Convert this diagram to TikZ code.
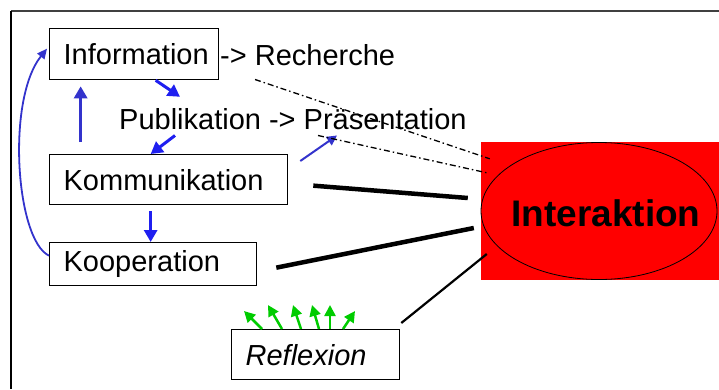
\documentclass[tikz,border=0pt]{standalone}
\usepackage{fontspec}
\setmainfont{Liberation Sans}
\usetikzlibrary{arrows.meta, shapes.geometric}

\begin{document}
\begin{tikzpicture}[x=1pt, y=1pt, font=\fontsize{29}{34}\selectfont,
  box/.style={draw, line width=1.3pt, inner xsep=14pt, inner ysep=0pt, anchor=north west, align=flush left},
  txt/.style={inner sep=0pt, anchor=base west},
  blarrow/.style={blu, line width=3pt, -{Triangle[length=12pt, width=13pt]}},
  grarrow/.style={gre, line width=2.5pt, -{Triangle[length=11pt, width=11pt]}},
  heavy/.style={line width=4.5pt},
  dashdot/.style={line width=1.3pt, dash pattern=on 6pt off 3pt on 1.5pt off 3pt}]
  \definecolor{blu}{HTML}{1F1FF0}
  \definecolor{dblu}{HTML}{3333CC}
  \definecolor{gre}{HTML}{00CC00}
  \useasboundingbox (0,0) rectangle (719,-389);

  % frame
  \draw [line width=1.3pt, black!75] (11,-11) -- (719,-11);
  \draw [line width=1.3pt] (11,-11) -- (11,-389);

  % nodes
  \node [box, text width=141pt, minimum height=51pt] (info) at (49,-28) {Information};
  \node [txt] (rech) at (220,-65) {-> Recherche};
  \node [txt] (pub) at (119,-129) {Publikation -> Präsentation};
  \node [box, text width=210pt, minimum height=50pt] (komm) at (49,-154) {Kommunikation};
  \node [box, text width=179pt, minimum height=43pt] (koop) at (49,-242) {Kooperation};
  \node [box, text width=140pt, minimum height=50pt, font=\fontsize{29}{34}\selectfont\itshape] (refl) at (231,-329) {Reflexion};

  \node [fill=red, inner sep=0pt, minimum width=238pt, minimum height=138pt] (redbox) at (600,-211) {};
  \node [ellipse, draw, line width=0.8pt, inner sep=0pt, minimum width=236pt, minimum height=137pt] (inter) at (599,-211) {};
  \node [font=\fontsize{37}{44}\selectfont\bfseries] (intertxt) at ([shift={(7pt,-2pt)}]inter.center) {Interaktion};

  % blue arrows
  \draw [blarrow] ([xshift=21.5pt]info.south) -- ([shift={(61pt,11pt)}]pub.north west);
  \draw [blarrow] ([shift={(56pt,-6pt)}]pub.south west) -- ([xshift=-18pt]komm.north);
  \draw [blarrow, dblu] ([shift={(-88pt,12pt)}]komm.north) -- ([shift={(-53.5pt,-6pt)}]info.south);
  \draw [blarrow, dblu, line width=2pt, -{Triangle[length=10pt, width=10pt]}] ([shift={(12pt,-7pt)}]komm.north east) -- ([shift={(218pt,-6pt)}]pub.south west);
  \draw [blarrow] ([shift={(-18pt,-6pt)}]komm.south) -- ([xshift=-2.5pt]koop.north);
  \draw [dblu, line width=1.8pt, -{Triangle[length=10pt, width=9pt]}] ([yshift=8.5pt]koop.west) .. controls (16,-240) and (6,-100) .. ([shift={(-2pt,5.5pt)}]info.west);

  % links to Interaktion
  \draw [dashdot] ([shift={(35pt,-14pt)}]rech.south west) -- ([shift={(9pt,-17pt)}]redbox.north west);
  \draw [dashdot] ([shift={(199pt,-6pt)}]pub.south west) -- ([shift={(6pt,-31pt)}]redbox.north west);
  \draw [heavy] ([shift={(25pt,-6pt)}]komm.east) -- ([shift={(-13pt,13pt)}]redbox.west);
  \draw [heavy] ([shift={(19pt,-3.5pt)}]koop.east) -- ([shift={(-7pt,-17pt)}]redbox.west);
  \draw [line width=2.2pt] ([shift={(1pt,6pt)}]refl.north east) -- ([shift={(6pt,-43pt)}]redbox.west);

  % green arrows
  \foreach \s/\dx/\dy in {31/-18/18, 51/-14/24, 70/-8/24, 88/-7/24, 99/0/24, 112/12/18}
    \draw [grarrow] ([xshift=\s pt]refl.north west) -- ++(\dx,\dy);
\end{tikzpicture}
\end{document}
